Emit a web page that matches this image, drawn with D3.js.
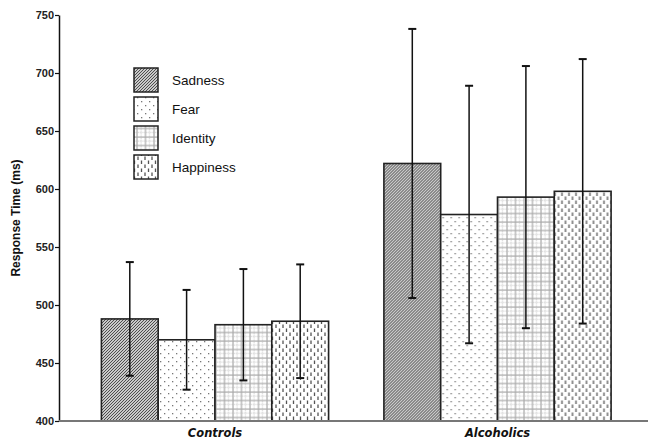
<!DOCTYPE html>
<html><head><meta charset="utf-8">
<script src="https://cdn.jsdelivr.net/npm/d3@7"></script>
<style>body{margin:0;background:#fff}</style>
</head><body>
<svg id="c" width="648" height="441"></svg>
<script>
const groups = ["Controls", "Alcoholics"];
const emotions = ["Sadness", "Fear", "Identity", "Happiness"];
const controlsMean = [488, 470, 483, 486];
const controlsSD = [49, 43, 48, 49];
const alcoholicsMean = [622, 578, 593, 598];
const alcoholicsSD = [116, 111, 113, 114];
const yTicks = [400, 450, 500, 550, 600, 650, 700, 750];

const means = [controlsMean, alcoholicsMean];
const sds = [controlsSD, alcoholicsSD];

const svg = d3.select("#c");
const defs = svg.append("defs");

// Patterns
const pS = defs.append("pattern").attr("id","pSad").attr("patternUnits","userSpaceOnUse").attr("width",3).attr("height",3);
pS.append("rect").attr("width",3).attr("height",3).attr("fill","#fff");
pS.append("path").attr("d","M-1,1 l2,-2 M0,3 l3,-3 M2,4 l2,-2").attr("stroke","#444").attr("stroke-width",1.1);

const pF = defs.append("pattern").attr("id","pFear").attr("patternUnits","userSpaceOnUse").attr("width",8).attr("height",8);
pF.append("rect").attr("width",8).attr("height",8).attr("fill","#fff");
pF.append("rect").attr("x",1).attr("y",1).attr("width",1.3).attr("height",1.3).attr("fill","#777");
pF.append("rect").attr("x",5).attr("y",5).attr("width",1.3).attr("height",1.3).attr("fill","#777");

const pI = defs.append("pattern").attr("id","pId").attr("patternUnits","userSpaceOnUse").attr("width",8.5).attr("height",8.5);
pI.append("rect").attr("width",8.5).attr("height",8.5).attr("fill","#fff");
pI.append("path").attr("d","M0,1 H8.5 M1,0 V8.5").attr("stroke","#aaa").attr("stroke-width",1.2);
pI.append("path").attr("d","M0,5 H8.5 M5,0 V8.5").attr("stroke","#bbb").attr("stroke-width",0.8).attr("stroke-dasharray","1,1");

const pH = defs.append("pattern").attr("id","pHap").attr("patternUnits","userSpaceOnUse").attr("width",7).attr("height",8);
pH.append("rect").attr("width",7).attr("height",8).attr("fill","#fff");
pH.append("path").attr("d","M1.5,0.5 V4 M5,4.5 V8").attr("stroke","#555").attr("stroke-width",1.3);

const fills = ["url(#pSad)","url(#pFear)","url(#pId)","url(#pHap)"];

const mLeft = 59, mRight = 648, mTop = 15, mBottom = 421;
const y = d3.scaleLinear().domain([400, 750]).range([mBottom, mTop]);
const gc = d3.scalePoint().domain(groups).range([215, 497.5]);
const bw = 56.8;
const x1 = d3.scaleBand().domain(emotions).range([-2*bw, 2*bw]).padding(0);

// axes
const yAxis = d3.axisLeft(y).tickValues(yTicks).tickSize(4).tickSizeOuter(0);
const ga = svg.append("g").attr("transform",`translate(${mLeft},0)`).call(yAxis);
ga.select(".domain").attr("stroke","#111").attr("stroke-width",1.5);
ga.selectAll(".tick line").attr("stroke","#111").attr("stroke-width",1.2);
ga.selectAll(".tick text").attr("font-family","Liberation Sans, Arial, sans-serif").attr("font-size",11).attr("font-weight","bold").attr("fill","#222").attr("x",-5);

// bars
groups.forEach((g, gi) => {
  const gg = svg.append("g").attr("transform",`translate(${gc(g)},0)`);
  emotions.forEach((e, ei) => {
    gg.append("rect")
      .attr("x", x1(e)).attr("width", x1.bandwidth())
      .attr("y", y(means[gi][ei])).attr("height", y(400) - y(means[gi][ei]))
      .attr("fill", fills[ei]).attr("stroke","#222").attr("stroke-width",1.6);
  });
  emotions.forEach((e, ei) => {
    const cx = x1(e) + x1.bandwidth()/2;
    const hi = means[gi][ei] + sds[gi][ei], lo = means[gi][ei] - sds[gi][ei];
    gg.append("line").attr("x1",cx).attr("x2",cx).attr("y1",y(hi)).attr("y2",y(lo)).attr("stroke","#111").attr("stroke-width",1.5);
    [hi, lo].forEach(v => gg.append("line").attr("x1",cx-4).attr("x2",cx+4).attr("y1",y(v)).attr("y2",y(v)).attr("stroke","#111").attr("stroke-width",2));
  });
  svg.append("text").attr("x", gc(g)).attr("y", 437).attr("text-anchor","middle")
    .attr("font-family","DejaVu Sans, sans-serif").attr("font-size",11.5).attr("font-weight","bold").attr("font-style","italic")
    .attr("fill","#111").text(g);
});

// baseline
svg.append("line").attr("x1",mLeft).attr("x2",mRight).attr("y1",mBottom).attr("y2",mBottom).attr("stroke","#777").attr("stroke-width",2);

// y title
svg.append("text").attr("transform",`translate(20,${(mTop+mBottom)/2}) rotate(-90)`).attr("text-anchor","middle")
  .attr("font-family","Liberation Sans, Arial, sans-serif").attr("font-size",12).attr("font-weight","bold").attr("fill","#111")
  .text("Response Time (ms)");

// legend
const ly = d3.scalePoint().domain(emotions).range([68, 155]);
emotions.forEach((e, ei) => {
  svg.append("rect").attr("x",134).attr("y",ly(e)).attr("width",24).attr("height",24)
    .attr("fill",fills[ei]).attr("stroke","#222").attr("stroke-width",1.5);
  svg.append("text").attr("x",172).attr("y",ly(e)+17).attr("font-family","Liberation Sans, Arial, sans-serif")
    .attr("font-size",13.5).attr("fill","#111").text(e);
});
</script>
</body></html>
